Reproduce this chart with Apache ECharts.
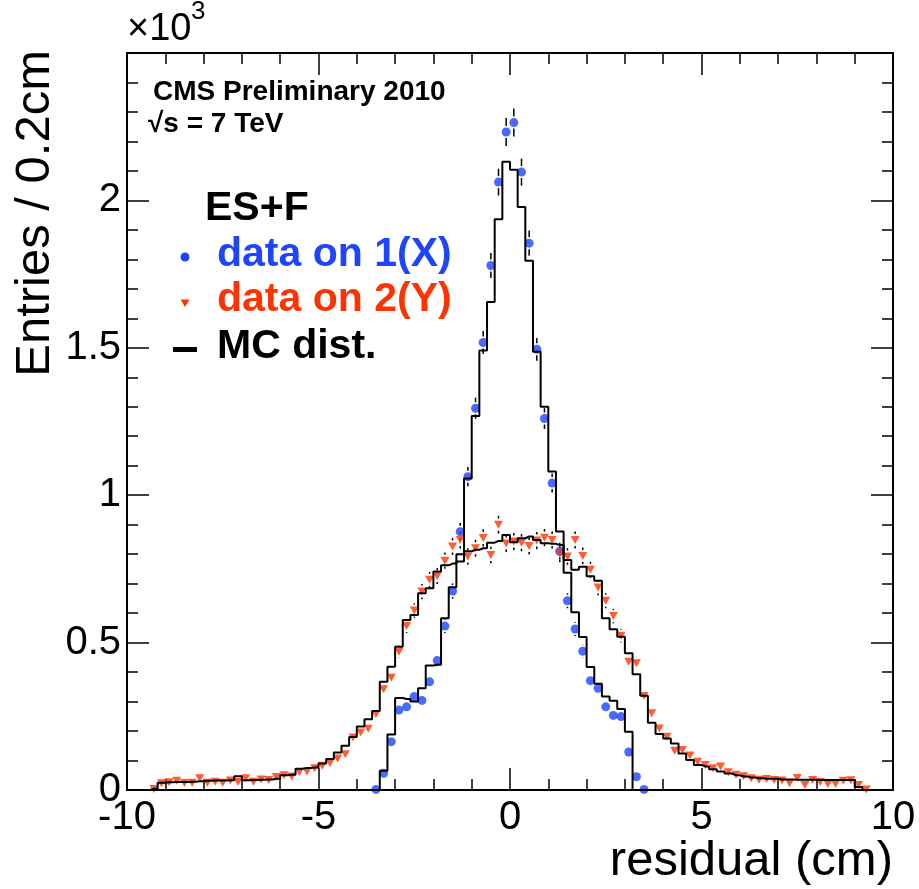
<!DOCTYPE html>
<html><head><meta charset="utf-8">
<script src="https://cdn.jsdelivr.net/npm/echarts@6/dist/echarts.min.js"></script>
<style>html,body{margin:0;padding:0;background:#fff}#c{width:919px;height:889px}</style>
</head><body><div id="c"></div>
<script>
// ---- binning (0.2 cm bins from -10 to 10) ----
const BIN_START = -10, BIN_WIDTH = 0.2, N_BINS = 100;
const binCenters = Array.from({length: N_BINS}, (_, i) => +(BIN_START + BIN_WIDTH * (i + 0.5)).toFixed(2));

// ---- values in units of 10^3 entries, one per bin (rows of 10 bins = 2 cm) ----
const dataX = [ // data on 1(X)
  null,null,null,null,null,null,null,null,null,null,
  null,null,null,null,null,null,null,null,null,null,
  null,null,null,null,null,null,null,null,null,null,
  null,null,0.002,0.057,0.164,0.271,0.282,0.317,0.304,0.367,
  0.439,0.556,0.675,0.876,1.063,1.295,1.518,1.779,2.062,2.232,
  2.264,2.096,1.855,1.495,1.260,1.041,0.810,0.642,0.546,0.471,
  0.371,0.345,0.282,0.253,0.249,0.129,0.045,0.002,null,null,
  null,null,null,null,null,null,null,null,null,null,
  null,null,null,null,null,null,null,null,null,null,
  null,null,null,null,null,null,null,null,null,null
];
const dataY = [ // data on 2(Y)
  null,null,null,0.003,0.023,0.026,0.031,0.024,0.025,0.040,
  0.025,0.028,0.025,0.032,0.027,0.040,0.028,0.036,0.034,0.044,
  0.050,0.046,0.061,0.063,0.074,0.082,0.092,0.107,0.121,0.178,
  0.195,0.208,0.257,0.342,0.381,0.469,0.556,0.609,0.673,0.713,
  0.726,0.778,0.826,0.848,0.792,0.820,0.855,0.797,0.900,0.836,
  0.843,0.839,0.828,0.846,0.856,0.848,0.801,0.792,0.848,0.794,
  0.747,0.687,0.642,0.590,0.523,0.435,0.430,0.319,0.260,0.209,
  0.181,0.133,0.136,0.117,0.096,0.085,0.074,0.080,0.060,0.052,
  0.047,0.040,0.035,0.037,0.034,0.032,0.023,0.041,0.017,0.034,
  0.027,0.020,0.020,0.031,0.033,0.017,0.002,null,null,null
];
const mcX = [ // MC dist. for 1(X)
  0,0,0,0,0,0,0,0,0,0,
  0,0,0,0,0,0,0,0,0,0,
  0,0,0,0,0,0,0,0,0,0,
  0,0,0,0.065,0.188,0.312,0.309,0.300,0.345,0.422,
  0.425,0.583,0.688,0.775,1.057,1.269,1.491,1.655,1.936,2.131,
  2.104,1.978,1.795,1.487,1.300,1.080,0.877,0.737,0.603,0.519,
  0.417,0.360,0.317,0.303,0.275,0.198,0,0,0,0,
  0,0,0,0,0,0,0,0,0,0,
  0,0,0,0,0,0,0,0,0,0,
  0,0,0,0,0,0,0,0,0,0
];
const mcY = [ // MC dist. for 2(Y)
  0,0,0,0.004,0.025,0.026,0.027,0.027,0.028,0.030,
  0.031,0.032,0.032,0.033,0.047,0.033,0.034,0.035,0.036,0.038,
  0.050,0.052,0.072,0.075,0.076,0.090,0.105,0.127,0.150,0.180,
  0.215,0.240,0.268,0.367,0.418,0.486,0.577,0.594,0.667,0.684,
  0.741,0.762,0.768,0.800,0.810,0.815,0.820,0.839,0.845,0.865,
  0.840,0.854,0.860,0.848,0.837,0.835,0.831,0.780,0.747,0.757,
  0.725,0.710,0.583,0.545,0.520,0.464,0.393,0.320,0.228,0.190,
  0.175,0.158,0.124,0.102,0.085,0.080,0.070,0.063,0.056,0.050,
  0.046,0.042,0.040,0.038,0.038,0.036,0.036,0.035,0.035,0.035,
  0.034,0.034,0.034,0.034,0.034,0.010,0,0,0,0
];
const xTickLabels = ['-10','-5','0','5','10'];
const yTickLabels = ['0','0.5','1','1.5','2'];

// ---- styling ----
const FONT = '"Liberation Sans", Arial, Helvetica, sans-serif';
const BLUE = '#1d44ff', RED = '#ff3300';

const pts = arr => binCenters.map((c, i) => arr[i] == null ? null : [c, arr[i]]).filter(p => p);
const hist = arr => binCenters.map((c, i) => [c, arr[i]]);

function errBars(gap) {
  return function (params, api) {
    const x = api.value(0), v = api.value(1);
    const e = Math.sqrt(v * 1000) / 1000;  // Poisson error in 10^3 entries
    const c = api.coord([x, v]), t = api.coord([x, v + e]), b = api.coord([x, Math.max(0, v - e)]);
    const st = {stroke: '#000', lineWidth: 1.5};
    const ch = [];
    if (c[1] - gap > t[1]) ch.push({type: 'line', shape: {x1: c[0], y1: t[1], x2: c[0], y2: c[1] - gap}, style: st});
    if (b[1] > c[1] + gap) ch.push({type: 'line', shape: {x1: c[0], y1: c[1] + gap, x2: c[0], y2: b[1]}, style: st});
    return {type: 'group', children: ch};
  };
}

const axisCommon = {
  type: 'value',
  axisLine: {show: true, onZero: false, lineStyle: {color: '#000', width: 2}},
  axisTick: {show: true, inside: true, length: 22, lineStyle: {color: '#000', width: 1.5}},
  minorTick: {show: true, splitNumber: 5, length: 11, lineStyle: {color: '#000', width: 1.5}},
  splitLine: {show: false},
  minorSplitLine: {show: false}
};

const chart = echarts.init(document.getElementById('c'), null, {renderer: 'canvas'});
chart.setOption({
  animation: false,
  backgroundColor: '#fff',
  grid: {left: 127, top: 53, width: 766, height: 737, containLabel: false, outerBoundsMode: 'none'},
  xAxis: [
    Object.assign({}, axisCommon, {position: 'bottom', min: -10, max: 10, interval: 5,
      axisLabel: {show: true, margin: 8, fontSize: 40, fontFamily: FONT, color: '#000',
        formatter: v => xTickLabels[[-10,-5,0,5,10].indexOf(v)] || ''}}),
    Object.assign({}, axisCommon, {position: 'top', min: -10, max: 10, interval: 5, axisLabel: {show: false}})
  ],
  yAxis: [
    Object.assign({}, axisCommon, {position: 'left', min: 0, max: 2.5, interval: 0.5,
      axisLabel: {show: true, margin: 6, fontSize: 40, fontFamily: FONT, color: '#000',
        formatter: v => v < 2.4 ? yTickLabels[Math.round(v / 0.5)] : ''}}),
    Object.assign({}, axisCommon, {position: 'right', min: 0, max: 2.5, interval: 0.5, axisLabel: {show: false}})
  ],
  series: [
    {type: 'custom', name: 'errX', data: pts(dataX), renderItem: errBars(6), z: 2, silent: true},
    {type: 'custom', name: 'errY', data: pts(dataY), renderItem: errBars(6), z: 2, silent: true},
    {type: 'scatter', name: 'data on 1(X)', data: pts(dataX), symbol: 'circle', symbolSize: 9,
      itemStyle: {color: BLUE}, z: 3},
    {type: 'scatter', name: 'data on 2(Y)', data: pts(dataY), symbol: 'triangle', symbolRotate: 180,
      symbolSize: [9, 8], itemStyle: {color: RED}, z: 3},
    {type: 'line', name: 'MC X', data: hist(mcX), step: 'middle', showSymbol: false, symbol: 'none',
      lineStyle: {color: '#000', width: 2}, z: 4},
    {type: 'line', name: 'MC Y', data: hist(mcY), step: 'middle', showSymbol: false, symbol: 'none',
      lineStyle: {color: '#000', width: 2}, z: 4}
  ],
  graphic: [
    {type: 'text', x: 127, y: 30, style: {text: '×10', font: '38px ' + FONT, fill: '#000', align: 'left', verticalAlign: 'middle'}},
    {type: 'text', x: 191, y: 12, style: {text: '3', font: '26px ' + FONT, fill: '#000', align: 'left', verticalAlign: 'middle'}},
    {type: 'text', x: 153, y: 92, style: {text: 'CMS Preliminary 2010', font: 'bold 28px ' + FONT, fill: '#000', align: 'left', verticalAlign: 'middle'}},
    {type: 'text', x: 148, y: 124, style: {text: '√s = 7 TeV', font: 'bold 28px ' + FONT, fill: '#000', align: 'left', verticalAlign: 'middle'}},
    {type: 'text', x: 205, y: 209, style: {text: 'ES+F', font: 'bold 41px ' + FONT, fill: '#000', align: 'left', verticalAlign: 'middle'}},
    {type: 'circle', shape: {cx: 185, cy: 257, r: 4.5}, style: {fill: BLUE}},
    {type: 'text', x: 217, y: 255, style: {text: 'data on 1(X)', font: 'bold 41px ' + FONT, fill: BLUE, align: 'left', verticalAlign: 'middle'}},
    {type: 'polygon', shape: {points: [[180.5, 299.5], [189.5, 299.5], [185, 307]]}, style: {fill: RED}},
    {type: 'text', x: 217, y: 300, style: {text: 'data on 2(Y)', font: 'bold 41px ' + FONT, fill: RED, align: 'left', verticalAlign: 'middle'}},
    {type: 'rect', shape: {x: 173, y: 347, width: 24, height: 5}, style: {fill: '#000'}},
    {type: 'text', x: 217, y: 347, style: {text: 'MC dist.', font: 'bold 41px ' + FONT, fill: '#000', align: 'left', verticalAlign: 'middle'}},
    {type: 'text', x: 893, y: 861, style: {text: 'residual (cm)', font: '49px ' + FONT, fill: '#000', align: 'right', verticalAlign: 'middle'}},
    {type: 'text', x: 35, y: 50, rotation: Math.PI / 2, style: {text: 'Entries / 0.2cm', font: '49px ' + FONT, fill: '#000', align: 'right', verticalAlign: 'middle'}}
  ]
});
</script></body></html>
